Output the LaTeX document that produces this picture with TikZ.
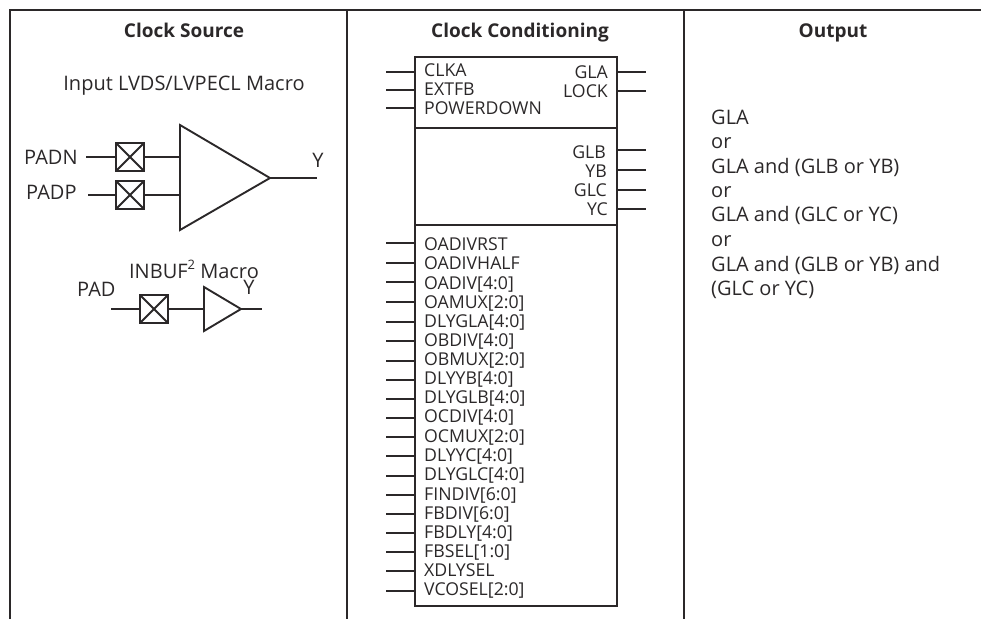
\documentclass[tikz,border=0pt]{standalone}
\usepackage{fontspec}
\setmainfont{Open Sans}
\definecolor{ink}{HTML}{2B2829}
\tikzset{
  frameline/.style={draw=ink,line width=2.2pt},
  wire/.style={draw=ink,line width=1.9pt},
  lbl/.style={inner sep=0pt,yshift=-1pt,text=ink,font=\fontsize{17.7}{20}\selectfont},
  lbig/.style={inner sep=0pt,yshift=-1pt,text=ink,font=\fontsize{20}{24}\selectfont},
  lw/.style={lbl,anchor=base west},
  le/.style={lbl,anchor=base east},
  bw/.style={lbig,anchor=base west},
  bc/.style={lbig,anchor=base},
  head/.style={inner sep=0pt,yshift=-1pt,text=ink,anchor=base,font=\fontsize{19}{22}\selectfont\bfseries},
  iobox/.style={draw=ink,line width=2pt,rectangle,minimum size=28pt,inner sep=0pt,outer sep=0pt,fill=white,
    path picture={\draw[ink,line width=2pt] (path picture bounding box.north west) -- (path picture bounding box.south east)
      (path picture bounding box.south west) -- (path picture bounding box.north east);}},
  sec/.style={draw=ink,line width=1.9pt,minimum width=202pt,inner sep=0pt,outer sep=0pt},
  amp/.style={draw=ink,line width=1.9pt,line join=miter}
}
\begin{document}
\begin{tikzpicture}[x=1pt,y=-1pt]
\useasboundingbox (0,0) rectangle (981,619);
\coordinate (fa) at (10,619);
\coordinate (fb) at (10,10);
\coordinate (fc) at (981,10);
\coordinate (fd) at (347,10);
\coordinate (fe) at (347,619);
\coordinate (ff) at (684,10);
\coordinate (fg) at (684,619);
\draw[frameline] (fa) -- (fb) -- (fc);
\draw[frameline] (fd) -- (fe);
\draw[frameline] (ff) -- (fg);
\node[head] (h1) at (184,36) {Clock Source};
\node[head] (h2) at (520,36) {Clock Conditioning};
\node[head] (h3) at (833,36) {Output};
% Clock source
\node[bc] (t1) at (184,89) {Input LVDS/LVPECL Macro};
\node[bw] (padn) at (24,163) {PADN};
\node[bw] (padp) at (26,198) {PADP};
\coordinate (padnw) at (86,157);
\coordinate (padpw) at (88,195);
\node[iobox] (bn) at (130,157) {};
\node[iobox] (bp) at (130,195) {};
\coordinate (a1) at (180,125);
\coordinate (a2) at (180,230);
\coordinate (a3) at (270,178);
\draw[amp] (a1) -- (a2) -- (a3) -- cycle;
\coordinate (yend) at (317,178);
\node[bc] (y1) at (318,166) {Y};
\draw[wire] (padnw) -- (bn);
\draw[wire] (padpw) -- (bp);
\draw[wire] (bn) -- (a1 |- bn);
\draw[wire] (bp) -- (a1 |- bp);
\draw[wire] (a3) -- (yend);
\node[bc] (t2) at (194,277) {INBUF\raisebox{0.42em}{\fontsize{13}{15}\selectfont 2} Macro};
\node[bw] (pad) at (77,295) {PAD};
\coordinate (padw) at (111,309);
\node[iobox] (bi) at (154,309) {};
\coordinate (c1) at (204,287);
\coordinate (c2) at (204,331);
\coordinate (c3) at (241,309);
\draw[amp] (c1) -- (c2) -- (c3) -- cycle;
\coordinate (yi) at (262,309);
\node[bc] (y2) at (249,293) {Y};
\draw[wire] (padw) -- (bi);
\draw[wire] (bi) -- (c1 |- bi);
\draw[wire] (c3) -- (yi);
% Clock conditioning
\node[sec,minimum height=71pt,anchor=north west] (s1) at (415,57) {};
\node[sec,minimum height=97pt,anchor=north west] (s2) at (415,128) {};
\node[sec,minimum height=381pt,anchor=north west] (s3) at (415,225) {};
\foreach \yy/\by/\tx [count=\i] in {
  72/75/CLKA,90/94.5/EXTFB,108/113/POWERDOWN,
  243/249/OADIVRST,263/268.5/OADIVHALF,282/288/{OADIV[4:0]},302/307/{OAMUX[2:0]},
  322/326/{DLYGLA[4:0]},341/345/{OBDIV[4:0]},361/364.5/{OBMUX[2:0]},380/383.5/{DLYYB[4:0]},
  399/402.5/{DLYGLB[4:0]},418/421.5/{OCDIV[4:0]},437/441/{OCMUX[2:0]},456/460/{DLYYC[4:0]},
  476/479/{DLYGLC[4:0]},495/499/{FINDIV[6:0]},514/518/{FBDIV[6:0]},533/537/{FBDLY[4:0]},
  552/556/{FBSEL[1:0]},571/575/XDLYSEL,591/594.5/{VCOSEL[2:0]}}{
  \coordinate (in\i) at (386,\yy);
  \coordinate (inb\i) at (415,\yy);
  \draw[wire] (in\i) -- (inb\i);
  \node[lw] (inl\i) at (424,\by) {\tx};
}
\foreach \yy/\by/\rx/\tx [count=\i] in {
  72/77/608/GLA,91/96/608/LOCK,150/157/606/GLB,170/176/607/YB,190/195/607/GLC,209/214/608/YC}{
  \coordinate (out\i) at (646,\yy);
  \coordinate (outb\i) at (617,\yy);
  \draw[wire] (outb\i) -- (out\i);
  \node[le] (outl\i) at (\rx,\by) {\tx};
}
% Output
\foreach \by/\tx [count=\i] in {
  123/GLA,147/or,172.5/{GLA and (GLB or YB)},196.5/or,220/{GLA and (GLC or YC)},245.5/or,270/{GLA and (GLB or YB) and},294/{(GLC or YC)}}{
  \node[bw] (o\i) at (711,\by) {\tx};
}
\end{tikzpicture}
\end{document}
